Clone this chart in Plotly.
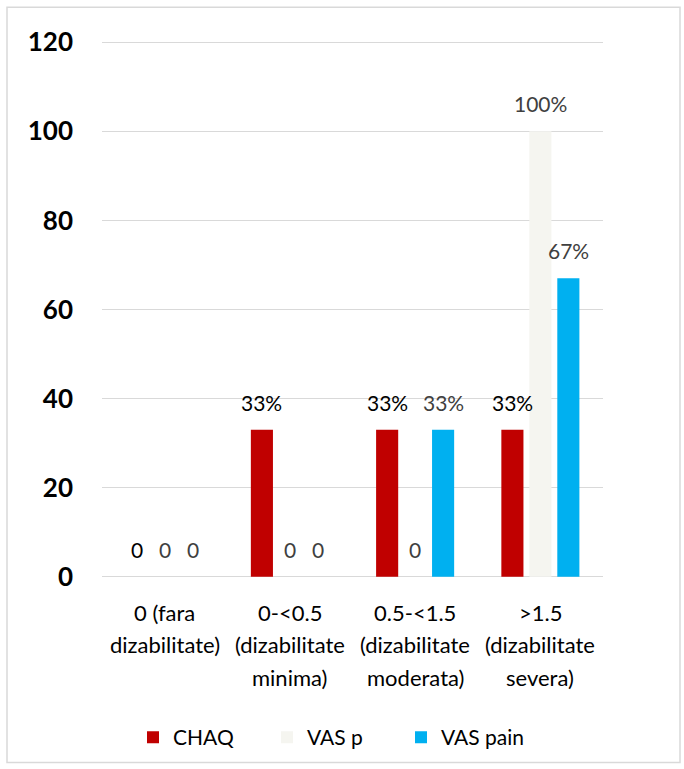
import plotly.graph_objects as go

# Disability groups (CHAQ score bands), one label line per row
category_lines = [
    ["0 (fara", "dizabilitate)", ""],
    ["0-<0.5", "(dizabilitate", "minima)"],
    ["0.5-<1.5", "(dizabilitate", "moderata)"],
    [">1.5", "(dizabilitate", "severa)"],
]
series_names = ["CHAQ", "VAS p", "VAS pain"]
chaq = [0, 33, 33, 33]
vas_p = [0, 0, 0, 100]
vas_pain = [0, 0, 33, 67]
y_ticks = [0, 20, 40, 60, 80, 100, 120]

series_values = [chaq, vas_p, vas_pain]
colors = ["#C00000", "#F5F5F0", "#00B0F0"]
label_colors = ["#000000", "#404040", "#404040"]

W, H = 684, 769
plot_left, plot_right, plot_top, plot_bottom = 102, 603, 42, 577
bargap = 0.33
font_family = "Lato, Open Sans, sans-serif"

# small padding so the 0 and 120 gridlines are drawn
y_pad = 0.5
px_per_unit = (plot_bottom - plot_top) / (y_ticks[-1] - y_ticks[0])
pad_px = y_pad * px_per_unit
m_top = plot_top - pad_px
m_bottom = H - plot_bottom - pad_px

x_pos = list(range(len(category_lines)))

fig = go.Figure()
for name, vals, col in zip(series_names, series_values, colors):
    fig.add_trace(go.Bar(
        x=x_pos, y=vals, name=name,
        marker=dict(color=col, line=dict(width=0)),
        hoverinfo="skip",
    ))

# value labels above each bar
slot = (1 - bargap) / len(series_values)
annotations = []
for k, vals in enumerate(series_values):
    for i, v in enumerate(vals):
        annotations.append(dict(
            x=i + (k - 1) * slot, y=v, xref="x", yref="y",
            text=f"{v}%" if v else "0",
            showarrow=False, yanchor="bottom", yshift=13,
            font=dict(family=font_family, size=21, color=label_colors[k]),
        ))

# category labels below the axis
line_offsets = [-36, -68, -101]
for i, lines in enumerate(category_lines):
    for line, dy in zip(lines, line_offsets):
        if not line:
            continue
        annotations.append(dict(
            x=i, y=0, xref="x", yref="y", text=line,
            showarrow=False, yanchor="middle", yshift=dy,
            font=dict(family=font_family, size=22, color="#000000"),
        ))

pw = plot_right - plot_left
ph = H - m_top - m_bottom
p_bottom_px = H - m_bottom


def to_paper_y(py):
    return (p_bottom_px - py) / ph


# outer chart frame
frame = dict(
    type="rect", xref="paper", yref="paper",
    x0=(7 - plot_left) / pw, x1=(680 - plot_left) / pw,
    y0=to_paper_y(763), y1=to_paper_y(7),
    line=dict(color="#D9D9D9", width=1.5), fillcolor="rgba(0,0,0,0)", layer="below",
)

fig.update_layout(
    width=W, height=H,
    margin=dict(l=plot_left, r=W - plot_right, t=m_top, b=m_bottom, autoexpand=False),
    paper_bgcolor="white", plot_bgcolor="white",
    barmode="group", bargap=bargap, bargroupgap=0.21,
    font=dict(family=font_family, color="#000000"),
    xaxis=dict(range=[-0.5, len(category_lines) - 0.5], showticklabels=False,
               showgrid=False, zeroline=False, showline=False, fixedrange=True),
    yaxis=dict(range=[y_ticks[0] - y_pad, y_ticks[-1] + y_pad], tickvals=y_ticks,
               showgrid=True, gridcolor="#D9D9D9",
               gridwidth=1.3, zeroline=False, showline=False, ticklabelstandoff=28,
               tickfont=dict(family="Lato, sans-serif", size=26, color="#000000", weight="bold"),
               fixedrange=True),
    legend=dict(orientation="h", x=(133 - plot_left) / pw, xanchor="left",
                y=to_paper_y(738), yanchor="middle",
                entrywidth=89, entrywidthmode="pixels", itemwidth=30,
                font=dict(family=font_family, size=21, color="#000000"),
                bgcolor="rgba(0,0,0,0)"),
    annotations=annotations,
    shapes=[frame],
    showlegend=True,
)

fig.write_html("out.html")
